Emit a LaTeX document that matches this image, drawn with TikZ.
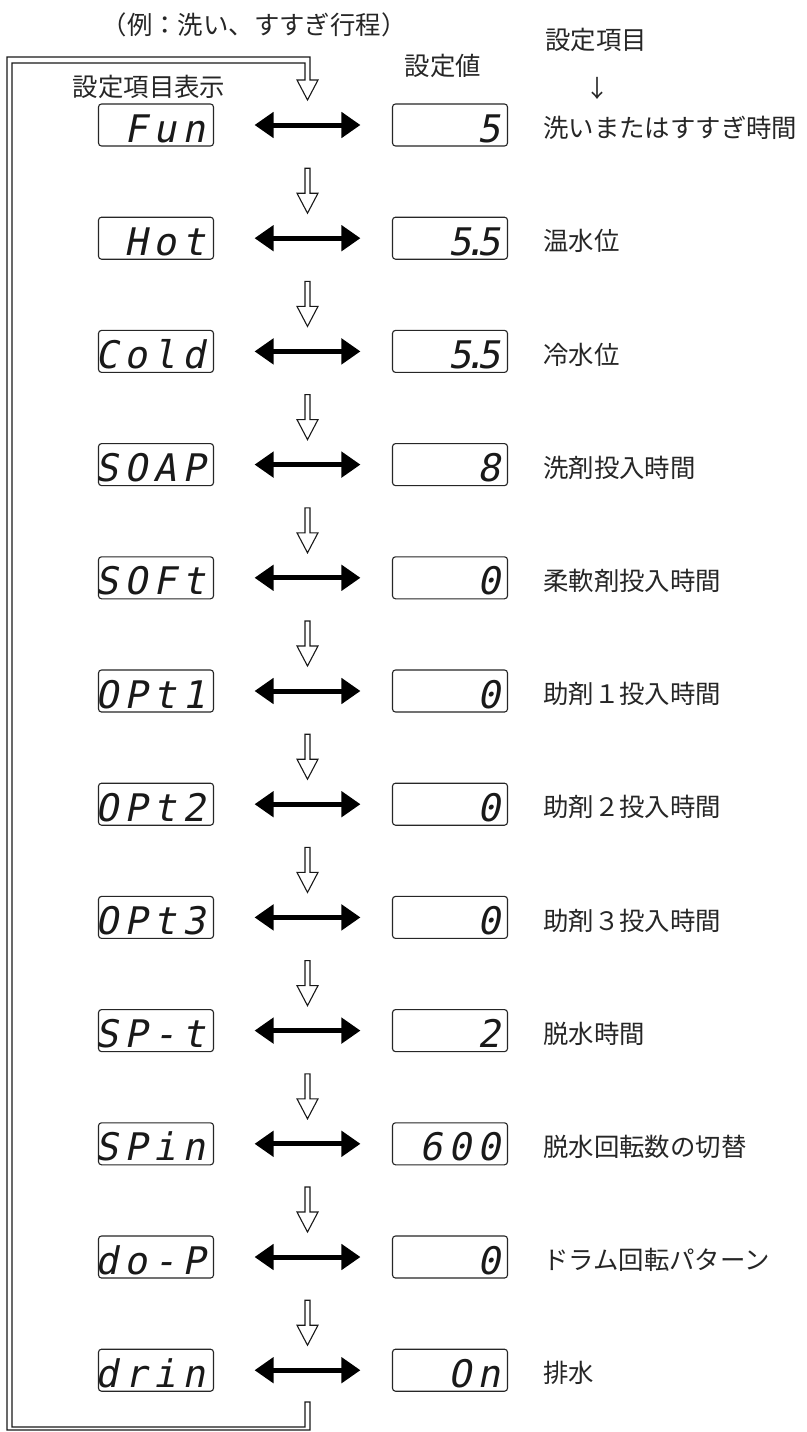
\documentclass[tikz,border=0pt]{standalone}
\usepackage{fontspec}
\setmainfont{Noto Sans CJK JP}
\newfontfamily\segfont{DejaVu Sans Mono}[FakeSlant=0.2]
\usetikzlibrary{arrows.meta}
\newcommand\cel[1]{\makebox[29pt]{#1}}
\newcommand\dotc{\makebox[0pt]{.}}
\begin{document}
\begin{tikzpicture}[x=1pt,y=-1pt,
  disp/.style={draw=black!85, rounded corners=3pt, line width=1.1pt, minimum width=115pt, minimum height=42pt, inner sep=0pt},
  segtxt/.style={font=\segfont\fontsize{38}{38}\selectfont, anchor=base east, inner sep=0pt, text=black!90},
  lbl/.style={font=\fontsize{25.4}{25.4}\selectfont, anchor=west, inner sep=0pt, text=black!85},
  hdr/.style={font=\fontsize{25.4}{25.4}\selectfont, inner sep=0pt, text=black!85},
  dbl/.style={line width=5pt, {Triangle[length=19pt,width=25pt]}-{Triangle[length=19pt,width=25pt]}},
  hollow/.style={draw=black!90, line width=1.1pt, fill=white, line join=miter}]
\useasboundingbox (0,0) rectangle (806,1432);
\fill[white] (0,0) rectangle (806,1432);

% header texts
\node[hdr] (ex) at (254,25) {（例：洗い、すすぎ行程）};
\node[hdr] (hL) at (149,87) {設定項目表示};
\node[hdr] (hV) at (443,66) {設定値};
\node[hdr] (hI) at (596,40) {設定項目};
\node[hdr, font=\fontsize{24}{24}\selectfont] (hA) at (597,88) {↓};

% loop with hollow arrow into first row
\draw[hollow, fill=none] (305,1402) -- (305,1427) -- (12,1427) -- (12,63) -- (305,63) -- (305,80)
  -- (297,80) -- (307.5,100) -- (318,80) -- (310,80) -- (310,57) -- (7,57) -- (7,1430)
  -- (310,1430) -- (310,1402) -- cycle;

\foreach \i/\lt/\rt/\lab in {
  1/{\cel{}\cel{F}\cel{u}\cel{n}}/{\cel{5}}/洗いまたはすすぎ時間,
  2/{\cel{}\cel{H}\cel{o}\cel{t}}/{\cel{5}\dotc\cel{5}}/温水位,
  3/{\cel{C}\cel{o}\cel{l}\cel{d}}/{\cel{5}\dotc\cel{5}}/冷水位,
  4/{\cel{S}\cel{O}\cel{A}\cel{P}}/{\cel{8}}/洗剤投入時間,
  5/{\cel{S}\cel{O}\cel{F}\cel{t}}/{\cel{0}}/柔軟剤投入時間,
  6/{\cel{O}\cel{P}\cel{t}\cel{1}}/{\cel{0}}/助剤１投入時間,
  7/{\cel{O}\cel{P}\cel{t}\cel{2}}/{\cel{0}}/助剤２投入時間,
  8/{\cel{O}\cel{P}\cel{t}\cel{3}}/{\cel{0}}/助剤３投入時間,
  9/{\cel{S}\cel{P}\cel{-}\cel{t}}/{\cel{2}}/脱水時間,
  10/{\cel{S}\cel{P}\cel{i}\cel{n}}/{\cel{6}\cel{0}\cel{0}}/脱水回転数の切替,
  11/{\cel{d}\cel{o}\cel{-}\cel{P}}/{\cel{0}}/ドラム回転パターン,
  12/{\cel{d}\cel{r}\cel{i}\cel{n}}/{\cel{O}\cel{n}}/排水}
{
  \pgfmathsetmacro{\yy}{125+(\i-1)*113.2}
  \node[disp] (L\i) at (156,\yy) {};
  \node[disp] (R\i) at (450,\yy) {};
  \node[segtxt] (LT\i) at (209,\yy+17) {\lt};
  \node[segtxt] (RT\i) at (504,\yy+17) {\rt};
  \node[lbl] (T\i) at (543,\yy+3) {\lab};
  \draw[dbl, shorten <=40.5pt, shorten >=31.5pt] (L\i.east) -- (R\i.west);
  \ifnum\i>1
    \draw[hollow] (305,\yy-70) -- (305,\yy-45) -- (297,\yy-45) -- (307.5,\yy-25)
      -- (318,\yy-45) -- (310,\yy-45) -- (310,\yy-70) -- cycle;
  \fi
}
\end{tikzpicture}
\end{document}
